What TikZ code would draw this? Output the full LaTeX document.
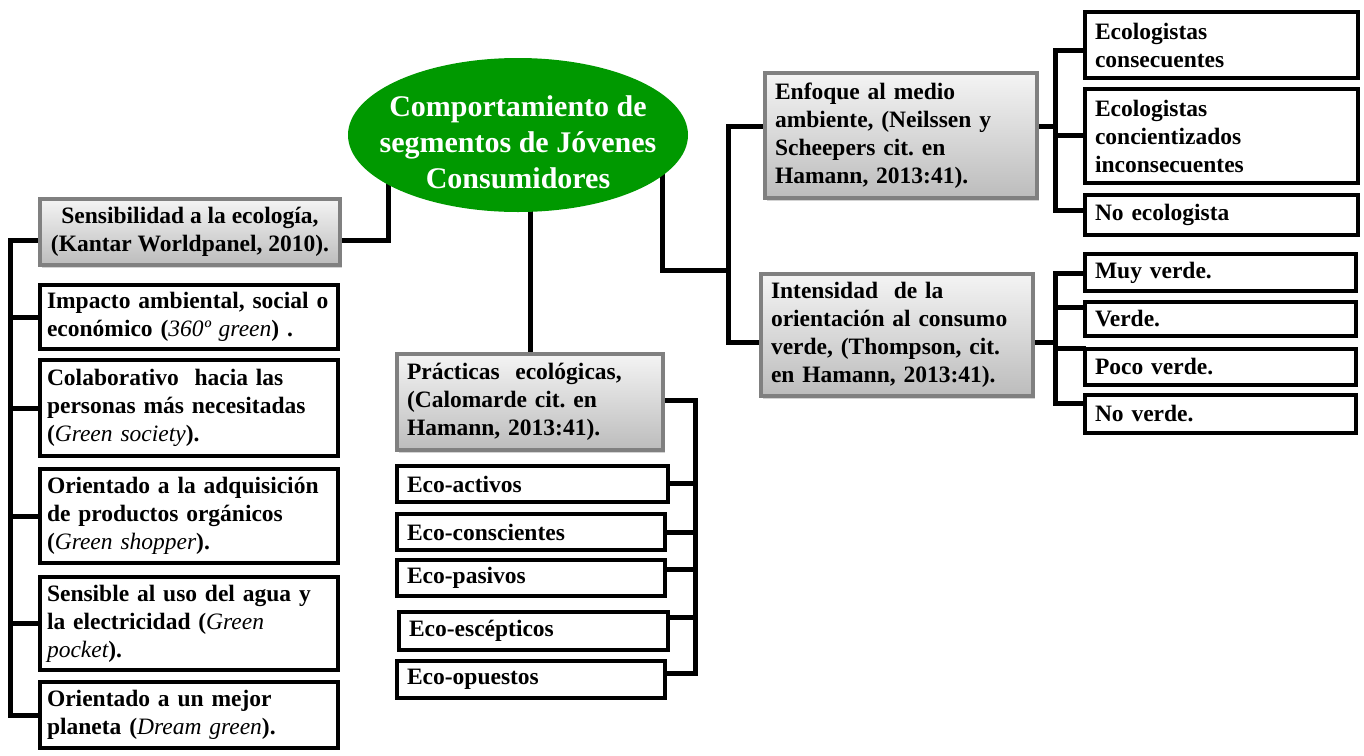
\documentclass[tikz,border=0pt]{standalone}
\usepackage{fontspec}
\setmainfont{Liberation Serif}
\usetikzlibrary{shapes.geometric,shadows,backgrounds}
\definecolor{egreen}{RGB}{0,153,0}
\definecolor{hdrtop}{RGB}{244,244,244}
\definecolor{hdrbot}{RGB}{188,188,188}
\definecolor{hdrline}{RGB}{128,128,128}
\newcommand\gi[1]{{\mdseries\itshape #1}}
\begin{document}
\begin{tikzpicture}[x=1pt,y=-1pt,
 txt/.style={font=\fontsize{23.5}{28}\selectfont\bfseries\frenchspacing},
 wbox/.style={txt, draw=black, line width=4pt, fill=white, inner xsep=10pt, inner ysep=0pt, align=left,
   drop shadow={shadow xshift=1.5pt, shadow yshift=-1.5pt, opacity=0.25}},
 lbox/.style={wbox, inner xsep=7pt, minimum width=298pt, text width=284pt},
 hbox/.style={txt, draw=hdrline, line width=4pt, top color=hdrtop, bottom color=hdrbot, inner xsep=10pt, inner ysep=0pt,
   drop shadow={shadow xshift=2pt, shadow yshift=-3pt, opacity=0.35}},
 conn/.style={line width=5pt, line cap=rect, line join=miter, draw=black}
]
\useasboundingbox (0,0) rectangle (1364,755);

% central ellipse
\node[ellipse, fill=egreen, minimum width=340pt, minimum height=154pt, inner sep=0pt] (ell) at (518,135) {};
\node[font=\fontsize{30}{36}\selectfont\bfseries, text=white, align=center] (ellt) at (518,142)
  {Comportamiento de\\segmentos de Jóvenes\\Consumidores};

% left branch
\node[hbox, minimum width=300pt, minimum height=66pt, align=center] (sens) at (190,232)
  {Sensibilidad a la ecología,\\(Kantar Worldpanel, 2010).};
\node[lbox, minimum height=64pt] (b1) at (189,317)
  {Impacto ambiental, social o\\económico (\gi{360º green}) .};
\node[lbox, minimum height=96pt] (b2) at (189,408)
  {Colaborativo\ \ hacia las\\personas más necesitadas\\(\gi{Green society}).};
\node[lbox, minimum height=94pt] (b3) at (189,516)
  {Orientado a la adquisición\\de productos orgánicos\\(\gi{Green shopper}).};
\node[lbox, minimum height=93pt] (b4) at (189,623.5)
  {Sensible al uso del agua y\\la electricidad (\gi{Green}\\\gi{pocket}).};
\node[lbox, minimum height=66pt] (b5) at (189,715)
  {Orientado a un mejor\\planeta (\gi{Dream green}).};

% center branch
\node[hbox, minimum width=266pt, minimum height=96pt, text width=246pt, align=left] (prac) at (530,402)
  {Prácticas\ \ ecológicas,\\(Calomarde cit. en\\Hamann, 2013:41).};
\node[wbox, minimum width=271pt, text width=251pt, minimum height=36pt] (act) at (532.5,484) {Eco-activos};
\node[wbox, minimum width=268pt, text width=248pt, minimum height=36pt] (con) at (531,532) {Eco-conscientes};
\node[wbox, minimum width=268pt, text width=248pt, minimum height=36pt] (pas) at (531,578) {Eco-pasivos};
\node[wbox, minimum width=269pt, text width=249pt, minimum height=38pt] (esc) at (533.5,631) {Eco-escépticos};
\node[wbox, minimum width=268pt, text width=248pt, minimum height=37pt] (opu) at (531,679.5) {Eco-opuestos};

% right branch
\node[hbox, minimum width=272pt, minimum height=125pt, text width=252pt, align=left] (enf) at (901,135.5)
  {Enfoque al medio\\ambiente, (Neilssen y\\Scheepers cit. en\\Hamann, 2013:41).};
\node[hbox, minimum width=272pt, minimum height=122pt, text width=252pt, align=left] (int) at (897,335)
  {Intensidad\ \ de la\\orientación al consumo\\verde, (Thompson, cit.\\en Hamann, 2013:41).};
\node[wbox, minimum width=273pt, text width=253pt, minimum height=66pt] (r1) at (1221.5,45) {Ecologistas\\consecuentes};
\node[wbox, minimum width=273pt, text width=253pt, minimum height=94pt] (r2) at (1221.5,136) {Ecologistas\\concientizados\\inconsecuentes};
\node[wbox, minimum width=273pt, text width=253pt, minimum height=40pt] (r3) at (1221.5,215) {No ecologista};
\node[wbox, minimum width=271pt, text width=251pt, minimum height=37pt] (g1) at (1220.5,272.5) {Muy verde.};
\node[wbox, minimum width=271pt, text width=251pt, minimum height=34pt] (g2) at (1220.5,319) {Verde.};
\node[wbox, minimum width=271pt, text width=251pt, minimum height=36pt] (g3) at (1220.5,367) {Poco verde.};
\node[wbox, minimum width=271pt, text width=251pt, minimum height=38pt] (g4) at (1220.5,414) {No verde.};

\begin{scope}[on background layer]
 % ellipse to left header
 \draw[conn] ([xshift=-130pt]ell.center) |- ([yshift=-8pt]sens.east);
 \coordinate (lt) at (10,240);
 \draw[conn] ([yshift=-8pt]sens.west) -- (lt) -- (lt |- b5.west);
 \foreach \b in {b1,b2,b3,b4,b5} {\draw[conn] (\b.west) -- (lt |- \b.west);}
 % ellipse to center header
 \draw[conn] (ell.center -| prac.north) -- (prac.north);
 \coordinate (et) at (695,400);
 \coordinate (e1) at (695,483);
 \coordinate (e2) at (695,532);
 \coordinate (e3) at (695,569);
 \coordinate (e4) at (695,617);
 \coordinate (e5) at (695,673);
 \draw[conn] (prac.east |- et) -- (et) -- (e5);
 \draw[conn] (e1) -- (e1 -| act.east);
 \draw[conn] (e2) -- (e2 -| con.east);
 \draw[conn] (e3) -- (e3 -| pas.east);
 \draw[conn] (e4) -- (e4 -| esc.east);
 \draw[conn] (e5) -- (e5 -| opu.east);
 % ellipse to right headers
 \coordinate (rm) at (728,270);
 \coordinate (rt) at (728,126);
 \coordinate (rb) at (728,342);
 \draw[conn] ([xshift=144pt]ell.center) |- (rm);
 \draw[conn] (rt) -- (rb);
 \draw[conn] (rt) -- (rt -| enf.west);
 \draw[conn] (rb) -- (rb -| int.west);
 % enfoque children
 \coordinate (f0) at (1055,126);
 \coordinate (f1) at (1055,50);
 \coordinate (f2) at (1055,135);
 \coordinate (f3) at (1055,210);
 \draw[conn] (f0 -| enf.east) -- (f0);
 \draw[conn] (f1) -- (f3);
 \draw[conn] (f1) -- (f1 -| r1.west);
 \draw[conn] (f2) -- (f2 -| r2.west);
 \draw[conn] (f3) -- (f3 -| r3.west);
 % intensidad children
 \coordinate (h0) at (1055,342);
 \coordinate (h1) at (1055,273);
 \coordinate (h2) at (1055,307);
 \coordinate (h3) at (1055,348);
 \coordinate (h4) at (1055,403);
 \draw[conn] (h0 -| int.east) -- (h0);
 \draw[conn] (h1) -- (h4);
 \draw[conn] (h1) -- (h1 -| g1.west);
 \draw[conn] (h2) -- (h2 -| g2.west);
 \draw[conn] (h3) -- (h3 -| g3.west);
 \draw[conn] (h4) -- (h4 -| g4.west);
\end{scope}
\end{tikzpicture}
\end{document}
